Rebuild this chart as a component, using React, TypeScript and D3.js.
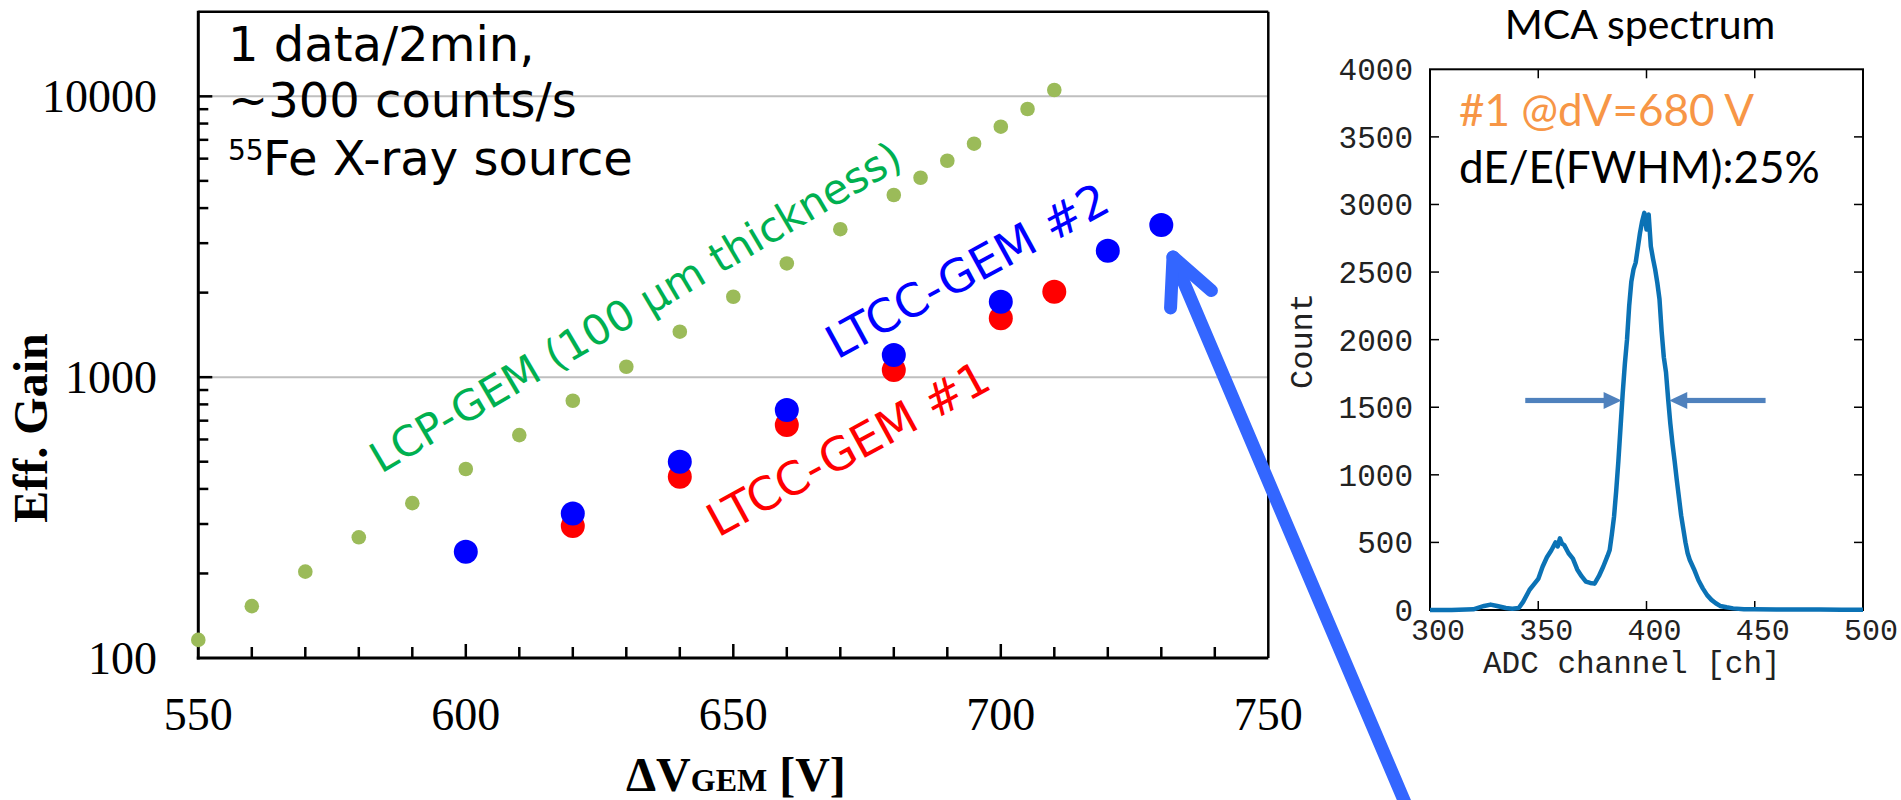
import React, { useEffect } from 'react';
import * as d3 from 'd3';

// gain curve data (ΔV_GEM in volts, effective gain)
const lcpVolt = [550, 560, 570, 580, 590, 600, 610, 620, 630, 640, 650, 660, 670, 680, 685, 690, 695, 700, 705, 710];
const lcpGain = [116, 153, 203, 269, 356, 471, 622, 824, 1089, 1452, 1933, 2541, 3365, 4453, 5130, 5898, 6782, 7796, 9016, 10532];
const ltcc1Volt = [620, 640, 660, 680, 700, 710];
const ltcc1Gain = [295, 442, 675, 1061, 1620, 2016];
const ltcc2Volt = [600, 620, 640, 660, 680, 700, 720, 730];
const ltcc2Gain = [239, 327, 500, 764, 1199, 1856, 2820, 3482];

const gainTicks = [100, 1000, 10000];
const voltTicks = [550, 600, 650, 700, 750];

// MCA spectrum (ADC channel, counts)
const mcaChannel = [300, 310, 320, 325, 328, 331, 335, 338, 341, 343, 346, 348, 350, 352, 354, 356, 358, 359, 360, 361, 362, 364, 366, 368, 370, 372, 374, 376, 378, 380, 382, 383, 384, 385, 386, 387, 388, 389, 390, 391, 392, 393, 394, 395, 396, 397, 398, 399, 400, 401, 402, 403, 404, 405, 406, 407, 408, 409, 410, 411, 412, 413, 414, 415, 416, 417, 418, 419, 420, 422, 424, 426, 428, 430, 432, 434, 437, 440, 445, 450, 460, 470, 480, 490, 500];
const mcaCount = [0, 0, 5, 30, 40, 30, 15, 10, 15, 60, 150, 190, 230, 320, 390, 440, 500, 470, 530, 490, 480, 420, 380, 300, 250, 210, 200, 195, 250, 320, 400, 444, 560, 690, 880, 1100, 1350, 1600, 1820, 2000, 2250, 2430, 2520, 2570, 2680, 2790, 2876, 2938, 2815, 2926, 2690, 2600, 2520, 2420, 2300, 2060, 1870, 1760, 1560, 1380, 1230, 1100, 960, 830, 700, 600, 500, 420, 370, 300, 220, 160, 110, 75, 50, 30, 20, 12, 6, 5, 4, 3, 3, 2, 2];
const mcaXTicks = [300, 350, 400, 450, 500];
const mcaYTicks = [0, 500, 1000, 1500, 2000, 2500, 3000, 3500, 4000];

const serif = '"Liberation Serif", "Times New Roman", serif';
const sans = '"DejaVu Sans", Verdana, sans-serif';
const calibri = 'Lato, "Noto Sans", sans-serif';
const mono = '"Liberation Mono", "Courier New", monospace';

export default function App() {
  useEffect(() => {
    document.body.style.margin = '0';
  }, []);

  // main plot
  const x = d3.scaleLinear().domain([550, 750]).range([198.3, 1268.3]);
  const y = d3.scaleLog().domain([100, 20000]).range([658, 11.8]);
  const [x0, x1] = x.range();
  const [yB, yT] = y.range();

  const minorY: number[] = [];
  [100, 1000].forEach(dec => d3.range(2, 10).forEach(k => minorY.push(dec * k)));
  const voltMinor = d3.range(560, 750, 10);

  // MCA inset
  const mx = d3.scaleLinear().domain([300, 500]).range([1430, 1863]);
  const my = d3.scaleLinear().domain([0, 4000]).range([610, 69.3]);
  const line = d3.line<number>().x((_, i) => mx(mcaChannel[i])).y(d => my(d));

  // pointer arrow (in data coords of the gain plot)
  const tip = [x.invert(1173), y.invert(257)];
  const tail = [x.invert(1406), y.invert(805)];
  const tx = x(tip[0]), ty = y(tip[1]);
  const ang = Math.atan2(y(tail[1]) - ty, x(tail[0]) - tx);
  const arm = (a: number) => [tx + 51 * Math.cos(ang + a), ty + 51 * Math.sin(ang + a)];
  const a1 = arm(0.45), a2 = arm(-0.45);

  // FWHM arrows in MCA coords
  const fwhmLevel = 1550;
  const fwhm = [
    { from: 344, to: 388.5 },
    { from: 455, to: 410.5 },
  ];

  const rotText = (vx: number, vy: number, angle: number) =>
    `translate(${x(vx)},${y(vy)}) rotate(${-angle})`;

  return (
    <svg width={1901} height={800} style={{ position: 'absolute', left: 0, top: 0, background: '#fff' }}>
      {/* gridlines */}
      {[1000, 10000].map(v => (
        <line key={v} x1={x0} x2={x1} y1={y(v)} y2={y(v)} stroke="#bfbfbf" strokeWidth={2} />
      ))}

      {/* frame */}
      <line x1={x0} x2={x1} y1={yT} y2={yT} stroke="#000" strokeWidth={2.5} />
      <line x1={x1} x2={x1} y1={yT} y2={yB} stroke="#000" strokeWidth={2.5} />
      <line x1={x0} x2={x0} y1={yT - 1} y2={yB + 1.5} stroke="#000" strokeWidth={3} />
      <line x1={x0 - 1.5} x2={x1} y1={yB} y2={yB} stroke="#000" strokeWidth={3} />

      {/* y ticks */}
      {[1000, 10000].map(v => (
        <line key={'M' + v} x1={x0} x2={x0 + 14} y1={y(v)} y2={y(v)} stroke="#000" strokeWidth={2.5} />
      ))}
      {minorY.map(v => (
        <line key={'m' + v} x1={x0} x2={x0 + 10} y1={y(v)} y2={y(v)} stroke="#000" strokeWidth={2.5} />
      ))}
      {gainTicks.map(v => (
        <text key={'t' + v} x={157} y={y(v) + 15.5} textAnchor="end" fontFamily={serif} fontSize={46} fill="#000">
          {v}
        </text>
      ))}

      {/* x ticks */}
      {voltMinor.map(v => (
        <line key={'x' + v} x1={x(v)} x2={x(v)} y1={yB} y2={yB - (v % 50 === 0 ? 14 : 11)} stroke="#000" strokeWidth={2.5} />
      ))}
      {voltTicks.map(v => (
        <text key={'xt' + v} x={x(v)} y={730} textAnchor="middle" fontFamily={serif} fontSize={46} fill="#000">
          {v}
        </text>
      ))}

      {/* axis titles */}
      <text x={626} y={791} fontFamily={serif} fontWeight="bold" fontSize={48} fill="#000">
        ΔV<tspan fontSize={32}>GEM</tspan> [V]
      </text>
      <text transform="translate(47,428) rotate(-90)" textAnchor="middle" fontFamily={serif} fontWeight="bold" fontSize={48} fill="#000">
        Eff. Gain
      </text>

      {/* info text */}
      <text x={228} y={61} fontFamily={sans} fontSize={48} fill="#000">1 data/2min,</text>
      <text x={228} y={117} fontFamily={sans} fontSize={48} fill="#000">~300 counts/s</text>
      <text x={228} y={160} fontFamily={sans} fontSize={28} fill="#000">55</text>
      <text x={263} y={175} fontFamily={sans} fontSize={48} fill="#000">Fe X-ray source</text>

      {/* data points */}
      {lcpVolt.map((v, i) => (
        <circle key={'g' + v} cx={x(v)} cy={y(lcpGain[i])} r={7.3} fill="#9bbb59" />
      ))}
      {ltcc1Volt.map((v, i) => (
        <circle key={'r' + v} cx={x(v)} cy={y(ltcc1Gain[i])} r={12} fill="#ff0000" />
      ))}
      {ltcc2Volt.map((v, i) => (
        <circle key={'b' + v} cx={x(v)} cy={y(ltcc2Gain[i])} r={12} fill="#0000ff" />
      ))}

      {/* series labels */}
      <text transform={rotText(x.invert(381), y.invert(474), 30.5)} fontFamily={sans} fontSize={42} fill="#00b050">
        LCP-GEM (100 μm thickness)
      </text>
      <text transform={rotText(x.invert(837), y.invert(360), 28.6)} fontFamily={sans} fontSize={46} fill="#0000ff">
        LTCC-GEM #2
      </text>
      <text transform={rotText(x.invert(718), y.invert(538), 28.6)} fontFamily={sans} fontSize={46} fill="#ff0000">
        LTCC-GEM #1
      </text>

      {/* MCA inset */}
      <text x={1640} y={39} textAnchor="middle" fontFamily={calibri} fontSize={41} fill="#000">MCA spectrum</text>
      <rect x={mx(300)} y={my(4000)} width={mx(500) - mx(300)} height={my(0) - my(4000)} fill="none" stroke="#000" strokeWidth={2} />
      {mcaYTicks.slice(1, -1).map(v => (
        <g key={'my' + v}>
          <line x1={mx(300)} x2={mx(300) + 9} y1={my(v)} y2={my(v)} stroke="#000" strokeWidth={1.5} />
          <line x1={mx(500)} x2={mx(500) - 9} y1={my(v)} y2={my(v)} stroke="#000" strokeWidth={1.5} />
        </g>
      ))}
      {mcaYTicks.map(v => (
        <text key={'myt' + v} x={1413} y={my(v) + 11} textAnchor="end" fontFamily={mono} fontSize={31} fill="#222">
          {v}
        </text>
      ))}
      {mcaXTicks.slice(1, -1).map(v => (
        <g key={'mx' + v}>
          <line x1={mx(v)} x2={mx(v)} y1={my(0)} y2={my(0) - 9} stroke="#000" strokeWidth={1.5} />
          <line x1={mx(v)} x2={mx(v)} y1={my(4000)} y2={my(4000) + 9} stroke="#000" strokeWidth={1.5} />
        </g>
      ))}
      {mcaXTicks.map(v => (
        <text key={'mxt' + v} x={mx(v) + 8} y={640} textAnchor="middle" fontFamily={mono} fontSize={30} fill="#222">
          {v}
        </text>
      ))}
      <text x={1483} y={673} fontFamily={mono} fontSize={31} fill="#222">ADC channel [ch]</text>
      <text transform="translate(1312,341) rotate(-90)" textAnchor="middle" fontFamily={mono} fontSize={32} fill="#222">
        Count
      </text>
      <path d={line(mcaCount) ?? ''} fill="none" stroke="#0b72b5" strokeWidth={4.5} strokeLinejoin="round" />

      {fwhm.map((a, i) => {
        const dir = a.to > a.from ? 1 : -1;
        const xt = mx(a.to);
        const yy = my(fwhmLevel);
        return (
          <g key={'fw' + i} fill="#4f81bd">
            <rect x={Math.min(mx(a.from), xt - dir * 17)} y={yy - 2.6} width={Math.abs(xt - dir * 17 - mx(a.from))} height={5.2} />
            <path d={`M${xt},${yy} L${xt - dir * 18},${yy - 8.5} L${xt - dir * 18},${yy + 8.5} Z`} />
          </g>
        );
      })}

      <text x={1459} y={126} fontFamily={calibri} fontSize={44} fill="#f79646">#1 @dV=680 V</text>
      <text x={1459} y={183} fontFamily={calibri} fontSize={44} fill="#000">dE/E(FWHM):25%</text>

      {/* pointer arrow */}
      <g stroke="#3366ff" strokeWidth={13} strokeLinecap="round" strokeLinejoin="round" fill="none">
        <line x1={tx} y1={ty} x2={x(tail[0])} y2={y(tail[1])} />
        <polyline points={`${a1[0]},${a1[1]} ${tx},${ty} ${a2[0]},${a2[1]}`} />
      </g>
    </svg>
  );
}
